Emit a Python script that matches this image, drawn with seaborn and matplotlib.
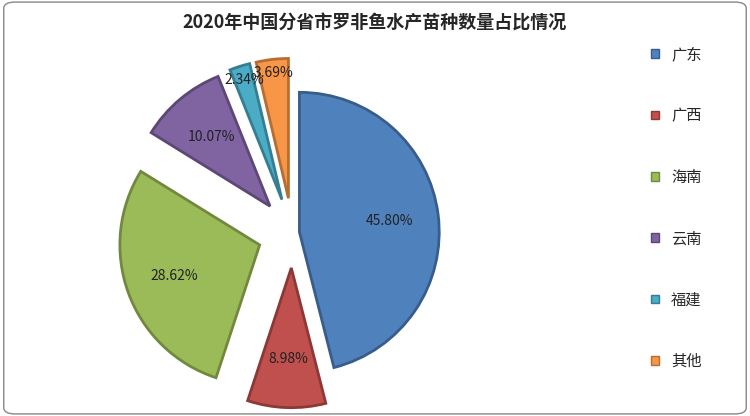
import matplotlib
matplotlib.use("Agg")
import matplotlib.pyplot as plt
import seaborn as sns
import numpy as np
from matplotlib.patches import FancyBboxPatch

sns.set_theme(style="white")
plt.rcParams['font.family'] = ['Noto Sans CJK SC', 'DejaVu Sans']

categories = ["广东", "广西", "海南", "云南", "福建", "其他"]
values = [45.80, 8.98, 28.62, 10.07, 2.34, 3.69]
colors = ["#4F81BD", "#C0504D", "#9BBB59", "#8064A2", "#4BACC6", "#F79646"]
edges = ["#385D8A", "#8C3836", "#71893F", "#5C4776", "#357D91", "#B66D31"]
title = "2020年中国分省市罗非鱼水产苗种数量占比情况"

fig = plt.figure(figsize=(7.5, 4.16), dpi=100)
fig.patches.append(FancyBboxPatch((0.005, 0.005), 0.99, 0.99, boxstyle="round,pad=0,rounding_size=0.015",
                                  transform=fig.transFigure, fill=False, ec="#888888", lw=1))
ax = fig.add_axes([0.08, 0.02, 0.62, 0.84])
wedges, texts = ax.pie(values, startangle=90, counterclock=False, colors=colors,
                       explode=[0.05, 0.25, 0.25, 0.25, 0.25, 0.25],
                       wedgeprops=dict(linewidth=2))
for w, e in zip(wedges, edges):
    w.set_edgecolor(e)
for w, v in zip(wedges, values):
    ang = np.deg2rad((w.theta1 + w.theta2) / 2)
    cx, cy = w.center
    d = 0.65 * w.r if v > 5 else 0.9 * w.r
    ax.text(cx + d * np.cos(ang), cy + d * np.sin(ang), f"{v:.2f}%", ha="center", va="center",
            fontsize=10, color="#222222")
ax.set_aspect("equal")
fig.text(0.5, 0.945, title, ha="center", va="center", fontsize=13, fontweight="bold")
handles = [plt.Rectangle((0, 0), 1, 1, fc=c, ec=e) for c, e in zip(colors, edges)]
fig.legend(handles, categories, loc="center left", bbox_to_anchor=(0.85, 0.5), frameon=False,
           fontsize=11, labelspacing=2.9, handlelength=0.5, handleheight=0.5)
fig.savefig("out.png", dpi=100)
